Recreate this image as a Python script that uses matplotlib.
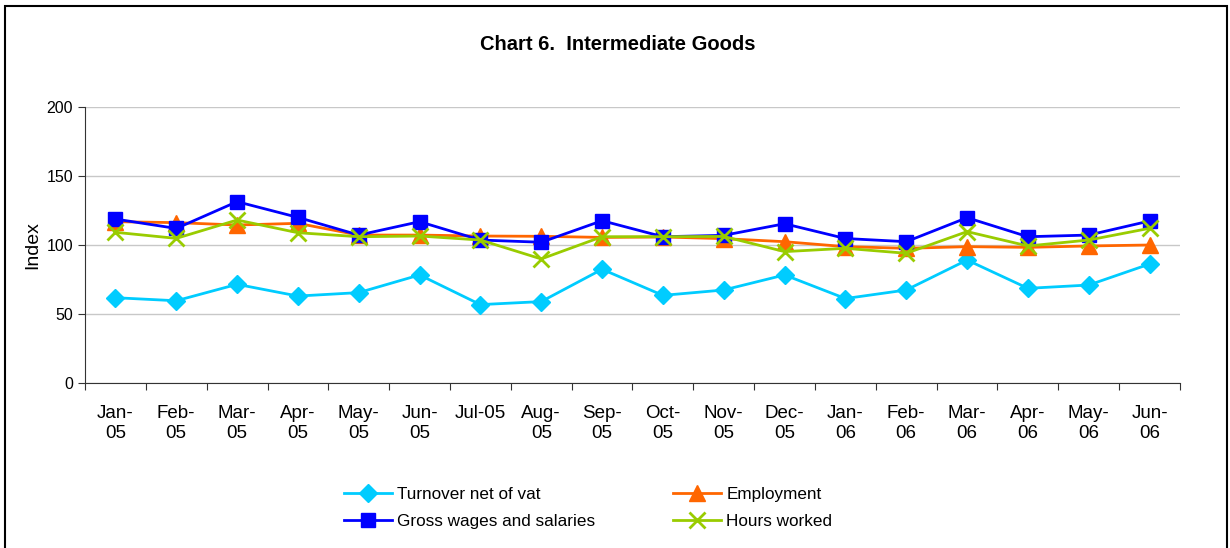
import numpy as np
import matplotlib.pyplot as plt
from matplotlib.patches import Rectangle

plt.rcParams['font.family'] = ['Liberation Sans', 'DejaVu Sans']

months = ["Jan-\n05", "Feb-\n05", "Mar-\n05", "Apr-\n05", "May-\n05", "Jun-\n05",
          "Jul-05", "Aug-\n05", "Sep-\n05", "Oct-\n05", "Nov-\n05", "Dec-\n05",
          "Jan-\n06", "Feb-\n06", "Mar-\n06", "Apr-\n06", "May-\n06", "Jun-\n06"]

turnover = [61.8, 59.6, 71.5, 63.0, 65.5, 78.3, 56.8, 59.0, 82.4, 63.5, 67.4, 78.3,
            61.2, 67.4, 89.1, 68.6, 71.0, 86.2]
employment = [116.9, 116.2, 114.5, 115.7, 107.2, 107.2, 106.5, 106.3, 105.5, 105.8, 104.6, 102.4,
              98.8, 97.6, 98.8, 98.3, 99.3, 100.0]
wages = [118.8, 112.0, 131.4, 120.0, 107.2, 116.9, 103.6, 102.0, 117.6, 106.0, 107.0, 115.4,
         104.7, 102.4, 119.8, 106.0, 107.2, 117.4]
hours = [109.2, 104.8, 118.1, 108.9, 106.0, 106.5, 103.6, 89.9, 106.0, 106.0, 106.2, 95.2,
         97.6, 94.0, 109.7, 99.3, 103.6, 112.1]

fig = plt.figure(figsize=(12.3, 5.48), dpi=100)
ax = fig.add_axes([85/1230, 1-383/548, 1095/1230, 276/548])

x = np.arange(len(months))
ax.plot(x, turnover, color='#00CCFF', marker='D', markersize=9, lw=2, label='Turnover net of vat')
ax.plot(x, employment, color='#FF6600', marker='^', markersize=11, lw=2, label='Employment')
ax.plot(x, wages, color='#0000FF', marker='s', markersize=10, lw=2, label='Gross wages and salaries')
ax.plot(x, hours, color='#99CC00', marker='x', markersize=11, mew=2, lw=2, label='Hours worked')

ax.set_xlim(-0.5, len(months) - 0.5)
ax.set_ylim(0, 200)
ax.set_yticks([0, 50, 100, 150, 200])
ax.yaxis.grid(True, color='#c8c8c8', lw=1)
ax.set_axisbelow(True)
ax.set_xticks(np.arange(len(months) + 1) - 0.5)
ax.set_xticklabels([])
ax.set_xticks(x, minor=True)
ax.set_xticklabels(months, minor=True, fontsize=13.5)
ax.tick_params(axis='x', which='minor', length=0, pad=16)
ax.tick_params(axis='x', which='major', length=5, direction='out', color='#333333')
ax.tick_params(axis='y', length=5, direction='out', labelsize=11.5, color='#333333')
for s in ['top', 'right']:
    ax.spines[s].set_visible(False)
ax.spines['left'].set_color('#333333')
ax.spines['bottom'].set_color('#333333')
ax.set_ylabel('Index', fontsize=14, labelpad=4)

fig.text(618/1230, 1-44/548, 'Chart 6.  Intermediate Goods', ha='center', va='center',
         fontsize=14.5, fontweight='bold')

handles, labels = ax.get_legend_handles_labels()
order = [0, 2, 1, 3]
fig.legend([handles[i] for i in order], [labels[i] for i in order], ncol=2, frameon=False,
           loc='center', bbox_to_anchor=(588/1230, 1-508/548), fontsize=12.3,
           handlelength=2.8, columnspacing=4.6, labelspacing=0.75, handletextpad=0.3)

fig.add_artist(Rectangle((5/1230, -0.1), 1222/1230, 1.1 - 6/548, transform=fig.transFigure,
                         fill=False, edgecolor='black', lw=1.5))

fig.savefig('out.png', dpi=100)
